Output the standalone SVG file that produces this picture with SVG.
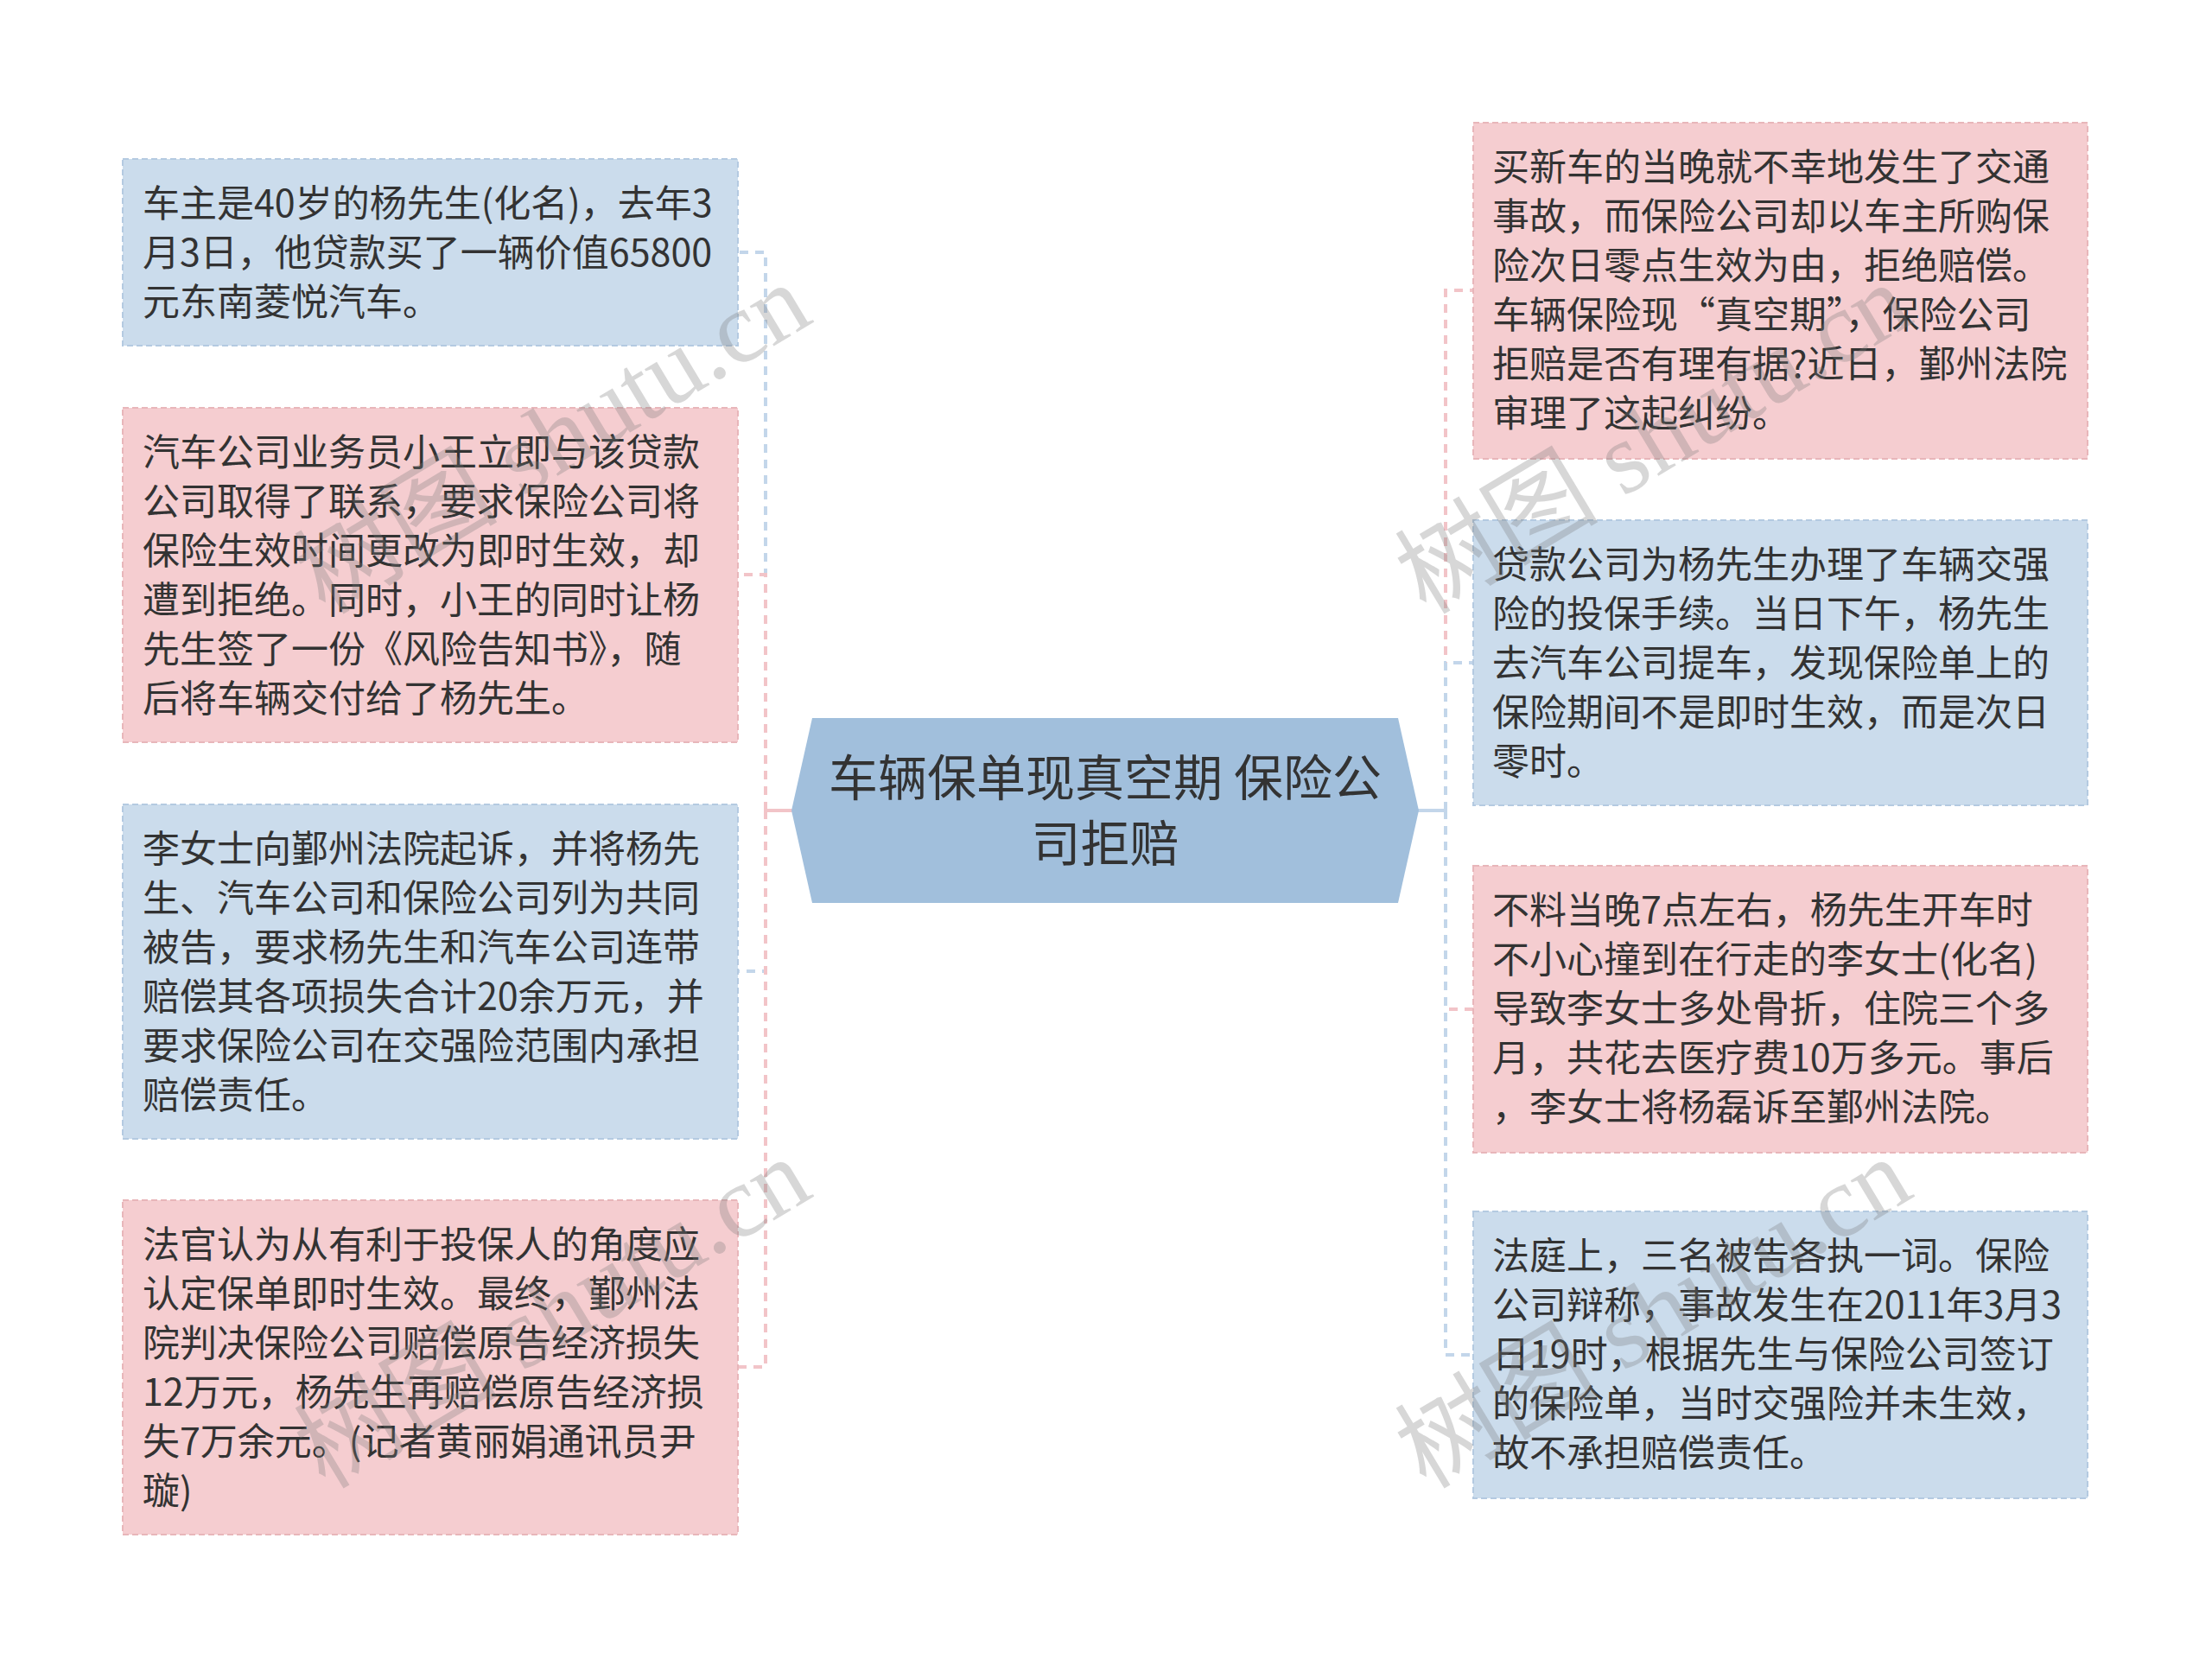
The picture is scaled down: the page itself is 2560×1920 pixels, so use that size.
<svg xmlns="http://www.w3.org/2000/svg" width="2560" height="1920" viewBox="0 0 2560 1920">
<style>
.bg{fill:#ffffff}
.blue{fill:#cbdcec;stroke:#b4cae1;stroke-width:2;stroke-dasharray:7 4}
.pink{fill:#f5cdd0;stroke:#e8b6ba;stroke-width:2;stroke-dasharray:7 4}
.t{font-family:"Noto Sans CJK SC","Noto Sans",sans-serif;font-size:43px;fill:#333333}
.ct{font-family:"Noto Sans CJK SC","Noto Sans",sans-serif;font-size:57px;fill:#333333;text-anchor:middle}
.eb{fill:none;stroke:#c3d6ea;stroke-width:4;stroke-dasharray:10 8}
.ep{fill:none;stroke:#f2c4c8;stroke-width:4;stroke-dasharray:10 8}
.sb{fill:none;stroke:#c3d6ea;stroke-width:4}
.sp{fill:none;stroke:#f2c4c8;stroke-width:4}
.wm{font-family:"Liberation Serif","Noto Sans CJK SC",serif;font-size:118px;fill:#7a7a7a;fill-opacity:0.3;text-anchor:middle}
</style>
<rect class="bg" x="0" y="0" width="2560" height="1920"/>
<g id="connectors">
<path class="eb" d="M886 938 V292 H854"/>
<path class="ep" d="M886 938 V665 H854"/>
<path class="eb" d="M886 938 V1124 H854"/>
<path class="ep" d="M886 938 V1582 H854"/>
<line class="sp" x1="886" y1="938" x2="918" y2="938"/>
<path class="ep" d="M1673 938 V336 H1705"/>
<path class="eb" d="M1673 938 V767 H1705"/>
<path class="ep" d="M1673 938 V1168 H1705"/>
<path class="eb" d="M1673 938 V1568 H1705"/>
<line class="sb" x1="1640" y1="938" x2="1673" y2="938"/>
</g>
<g id="center">
<polygon points="940,831 1618,831 1642,938 1618,1045 940,1045 916,938" fill="#a1bfdc"/>
<text class="ct"><tspan x="1279" y="921">车辆保单现真空期 保险公</tspan><tspan x="1279" y="997">司拒赔</tspan></text>
</g>
<g id="left1">
<rect class="blue" x="142" y="184" width="712" height="216"/>
<text class="t"><tspan x="165" y="251">车主是40岁的杨先生(化名)，去年3</tspan><tspan x="165" dy="57">月3日，他贷款买了一辆价值65800</tspan><tspan x="165" dy="57">元东南菱悦汽车。</tspan></text>
</g>
<g id="left2">
<rect class="pink" x="142" y="472" width="712" height="387"/>
<text class="t"><tspan x="165" y="539">汽车公司业务员小王立即与该贷款</tspan><tspan x="165" dy="57">公司取得了联系，要求保险公司将</tspan><tspan x="165" dy="57">保险生效时间更改为即时生效，却</tspan><tspan x="165" dy="57">遭到拒绝。同时，小王的同时让杨</tspan><tspan x="165" dy="57">先生签了一份《风险告知书》，随</tspan><tspan x="165" dy="57">后将车辆交付给了杨先生。</tspan></text>
</g>
<g id="left3">
<rect class="blue" x="142" y="931" width="712" height="387"/>
<text class="t"><tspan x="165" y="998">李女士向鄞州法院起诉，并将杨先</tspan><tspan x="165" dy="57">生、汽车公司和保险公司列为共同</tspan><tspan x="165" dy="57">被告，要求杨先生和汽车公司连带</tspan><tspan x="165" dy="57">赔偿其各项损失合计20余万元，并</tspan><tspan x="165" dy="57">要求保险公司在交强险范围内承担</tspan><tspan x="165" dy="57">赔偿责任。</tspan></text>
</g>
<g id="left4">
<rect class="pink" x="142" y="1389" width="712" height="387"/>
<text class="t"><tspan x="165" y="1456">法官认为从有利于投保人的角度应</tspan><tspan x="165" dy="57">认定保单即时生效。最终，鄞州法</tspan><tspan x="165" dy="57">院判决保险公司赔偿原告经济损失</tspan><tspan x="165" dy="57">12万元，杨先生再赔偿原告经济损</tspan><tspan x="165" dy="57">失7万余元。(记者黄丽娟通讯员尹</tspan><tspan x="165" dy="57">璇)</tspan></text>
</g>
<g id="right1">
<rect class="pink" x="1705" y="142" width="711" height="389"/>
<text class="t"><tspan x="1727" y="209">买新车的当晚就不幸地发生了交通</tspan><tspan x="1727" dy="57">事故，而保险公司却以车主所购保</tspan><tspan x="1727" dy="57">险次日零点生效为由，拒绝赔偿。</tspan><tspan x="1727" dy="57">车辆保险现“真空期”，保险公司</tspan><tspan x="1727" dy="57">拒赔是否有理有据?近日，鄞州法院</tspan><tspan x="1727" dy="57">审理了这起纠纷。</tspan></text>
</g>
<g id="right2">
<rect class="blue" x="1705" y="602" width="711" height="330"/>
<text class="t"><tspan x="1727" y="669">贷款公司为杨先生办理了车辆交强</tspan><tspan x="1727" dy="57">险的投保手续。当日下午，杨先生</tspan><tspan x="1727" dy="57">去汽车公司提车，发现保险单上的</tspan><tspan x="1727" dy="57">保险期间不是即时生效，而是次日</tspan><tspan x="1727" dy="57">零时。</tspan></text>
</g>
<g id="right3">
<rect class="pink" x="1705" y="1002" width="711" height="332"/>
<text class="t"><tspan x="1727" y="1069">不料当晚7点左右，杨先生开车时</tspan><tspan x="1727" dy="57">不小心撞到在行走的李女士(化名)</tspan><tspan x="1727" dy="57">导致李女士多处骨折，住院三个多</tspan><tspan x="1727" dy="57">月，共花去医疗费10万多元。事后</tspan><tspan x="1727" dy="57">，李女士将杨磊诉至鄞州法院。</tspan></text>
</g>
<g id="right4">
<rect class="blue" x="1705" y="1402" width="711" height="332"/>
<text class="t"><tspan x="1727" y="1469">法庭上，三名被告各执一词。保险</tspan><tspan x="1727" dy="57">公司辩称，事故发生在2011年3月3</tspan><tspan x="1727" dy="57">日19时，根据先生与保险公司签订</tspan><tspan x="1727" dy="57">的保险单，当时交强险并未生效，</tspan><tspan x="1727" dy="57">故不承担赔偿责任。</tspan></text>
</g>
<g id="watermarks">
<text class="wm" transform="translate(660,542) rotate(-31)">树图 shutu.cn</text>
<text class="wm" transform="translate(660,1554) rotate(-31)">树图 shutu.cn</text>
<text class="wm" transform="translate(1934,542) rotate(-31)">树图 shutu.cn</text>
<text class="wm" transform="translate(1934,1554) rotate(-31)">树图 shutu.cn</text>
</g>
</svg>
